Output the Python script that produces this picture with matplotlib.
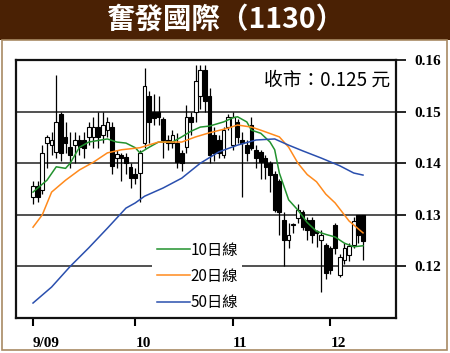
import matplotlib
matplotlib.use("Agg")
import matplotlib.pyplot as plt
from matplotlib.patches import Rectangle
import numpy as np

# daily candles, index 0 = first trading day of Sep 2009
opens = [0.1335, 0.1355, 0.1348, 0.144, 0.1435, 0.1422, 0.1495, 0.145, 0.1432, 0.1435,
         0.1445, 0.1445, 0.145, 0.145, 0.147, 0.1455, 0.1465, 0.147, 0.141, 0.1415,
         0.1412, 0.1393, 0.138, 0.1381, 0.144, 0.153, 0.150, 0.150, 0.1485, 0.1445,
         0.144, 0.144, 0.142, 0.1432, 0.149, 0.150, 0.153, 0.158, 0.153, 0.1455,
         0.1445, 0.1415, 0.147, 0.1435, 0.148, 0.1445, 0.1435, 0.1475, 0.1425, 0.1422,
         0.141, 0.140, 0.138, 0.1365, 0.129, 0.1251, 0.128, 0.1294, 0.1305, 0.129,
         0.129, 0.1268, 0.1251, 0.1241, 0.1236, 0.128, 0.1183, 0.1212, 0.1222, 0.1241,
         0.130, 0.130]
highs = [0.1365, 0.1365, 0.1435, 0.1455, 0.146, 0.157, 0.150, 0.148, 0.146, 0.146,
         0.1455, 0.146, 0.148, 0.149, 0.150, 0.150, 0.149, 0.148, 0.1425, 0.142,
         0.142, 0.140, 0.139, 0.1425, 0.1585, 0.154, 0.1535, 0.153, 0.149, 0.1455,
         0.1465, 0.1458, 0.1425, 0.1512, 0.150, 0.159, 0.159, 0.159, 0.1545, 0.147,
         0.1455, 0.147, 0.1495, 0.150, 0.1485, 0.146, 0.1445, 0.149, 0.1435, 0.1425,
         0.1415, 0.1405, 0.1385, 0.137, 0.1305, 0.1285, 0.1285, 0.132, 0.131, 0.1295,
         0.1295, 0.127, 0.127, 0.1245, 0.124, 0.1285, 0.1225, 0.1245, 0.1245, 0.1295,
         0.130, 0.130]
lows = [0.132, 0.1325, 0.134, 0.139, 0.1415, 0.141, 0.1405, 0.142, 0.139, 0.140,
        0.1415, 0.141, 0.1435, 0.143, 0.143, 0.144, 0.145, 0.138, 0.139, 0.1365,
        0.138, 0.1352, 0.136, 0.1325, 0.143, 0.144, 0.1475, 0.1475, 0.141, 0.1425,
        0.143, 0.139, 0.1385, 0.142, 0.1455, 0.148, 0.1505, 0.150, 0.140, 0.1405,
        0.141, 0.141, 0.1465, 0.1425, 0.144, 0.1335, 0.1405, 0.1425, 0.139, 0.137,
        0.137, 0.1345, 0.1305, 0.126, 0.120, 0.1235, 0.1265, 0.1285, 0.127, 0.1251,
        0.1245, 0.1238, 0.115, 0.1175, 0.1185, 0.1225, 0.118, 0.1205, 0.121, 0.1235,
        0.1245, 0.1212]
closes = [0.1355, 0.1335, 0.142, 0.145, 0.1445, 0.148, 0.142, 0.144, 0.1415, 0.1445,
          0.1432, 0.143, 0.147, 0.147, 0.145, 0.1475, 0.148, 0.1395, 0.1418, 0.141,
          0.140, 0.1372, 0.1371, 0.142, 0.155, 0.148, 0.1488, 0.149, 0.1445, 0.144,
          0.1455, 0.1402, 0.140, 0.149, 0.148, 0.156, 0.158, 0.152, 0.1415, 0.142,
          0.142, 0.1465, 0.149, 0.149, 0.145, 0.144, 0.142, 0.143, 0.141, 0.1402,
          0.1393, 0.1378, 0.131, 0.1305, 0.1251, 0.1261, 0.128, 0.131, 0.1277, 0.127,
          0.1261, 0.1265, 0.1261, 0.1188, 0.1193, 0.1236, 0.1218, 0.1236, 0.124, 0.1288,
          0.1261, 0.125]

# moving averages (day index, price)
ma10_x = [0, 3, 5, 7, 8, 10, 12, 16, 18, 20, 22, 23, 25, 27, 30, 32, 34, 36, 38, 41,
          43, 44, 46, 47, 49, 51, 52, 53, 55, 57, 59, 61, 63, 65, 67, 69, 71]
ma10_y = [0.1344, 0.1367, 0.1393, 0.139, 0.140, 0.1431, 0.1441, 0.1447, 0.1441, 0.1439,
          0.143, 0.142, 0.1431, 0.1441, 0.1441, 0.1451, 0.1462, 0.147, 0.1472, 0.148,
          0.1488, 0.149, 0.148, 0.1464, 0.1458, 0.1441, 0.1426, 0.1381, 0.1329, 0.1309,
          0.1285, 0.1268, 0.1262, 0.1257, 0.1245, 0.1238, 0.124]
ma20_x = [0, 2, 4, 7, 10, 13, 16, 19, 23, 27, 32, 35, 38, 42, 44, 47, 49, 53, 55, 57,
          59, 61, 63, 65, 68, 71]
ma20_y = [0.1276, 0.130, 0.1344, 0.1367, 0.1387, 0.1402, 0.142, 0.1426, 0.143, 0.1441,
          0.1441, 0.1451, 0.1459, 0.1468, 0.1474, 0.147, 0.1464, 0.1451, 0.1431, 0.140,
          0.1378, 0.1364, 0.134, 0.1323, 0.1288, 0.1265]
ma50_x = [0, 4, 8, 12, 16, 20, 22, 24, 28, 32, 36, 40, 44, 48, 52, 55, 58, 62, 66, 69, 71]
ma50_y = [0.1129, 0.116, 0.120, 0.1236, 0.1274, 0.1313, 0.1323, 0.1336, 0.1352, 0.1371,
          0.140, 0.1422, 0.1435, 0.1445, 0.1447, 0.1435, 0.1424, 0.141, 0.1395, 0.1381,
          0.1377]

month_pos = [0, 22, 43, 64]
month_labels = ["9/09", "10", "11", "12"]
price_ticks = [0.12, 0.13, 0.14, 0.15, 0.16]

W, H = 450, 353
fig = plt.figure(figsize=(W / 100, H / 100), dpi=100)
fig.patch.set_facecolor("white")

# title bar and outer frame
fig.patches.append(Rectangle((0, 1 - 40 / H), 1, 40 / H, transform=fig.transFigure,
                             facecolor="#4a2104", edgecolor="none", zorder=0))
fig.patches.append(Rectangle((2 / W, 3 / H), 445 / W, (H - 43) / H,
                             transform=fig.transFigure, facecolor="none",
                             edgecolor="#a88a64", lw=1.2, zorder=0))
fig.text(0.5, 1 - 20 / H, "奮發國際（1130）", color="white", fontsize=20.5,
         fontweight="heavy", ha="center", va="center",
         family=["Noto Sans CJK TC", "DejaVu Sans"])

ax = fig.add_axes([16 / W, (H - 318) / H, 380 / W, 258 / H])
ax.set_xlim(-3.66, 78.1)
ax.set_ylim(0.11, 0.16)

# candles
idx = np.arange(len(closes))
o = np.array(opens)
c = np.array(closes)
ax.vlines(idx, lows, highs, color="black", lw=0.9, zorder=3)
up = c >= o
body_lo = np.minimum(o, c)
body_h = np.maximum(np.abs(c - o), 0.0003)
ax.bar(idx[up], body_h[up], bottom=body_lo[up], width=0.8, facecolor="white",
       edgecolor="black", lw=0.8, zorder=4)
ax.bar(idx[~up], body_h[~up], bottom=body_lo[~up], width=0.8, facecolor="black",
       edgecolor="black", lw=0.8, zorder=4)

ax.plot(ma10_x, ma10_y, color="#22922e", lw=1.1, zorder=5, label="10日線")
ax.plot(ma20_x, ma20_y, color="#ff8a1c", lw=1.1, zorder=5, label="20日線")
ax.plot(ma50_x, ma50_y, color="#2a4fae", lw=1.1, zorder=5, label="50日線")

ax.set_axisbelow(True)
ax.yaxis.grid(True, color="#222222", lw=1.1)
ax.yaxis.tick_right()
ax.set_yticks(price_ticks)
ax.set_yticklabels([f"{p:.2f}" for p in price_ticks])
ax.set_xticks(month_pos)
ax.set_xticklabels(month_labels, ha="left")
ax.tick_params(axis="y", direction="out", length=7, width=1.2, pad=6)
ax.tick_params(axis="x", direction="out", length=6, width=1.5, pad=8)
for lab in ax.get_xticklabels() + ax.get_yticklabels():
    lab.set_family(["Liberation Serif"])
    lab.set_fontsize(11)
    lab.set_fontweight("bold")
for s in ax.spines.values():
    s.set_linewidth(1.6)
    s.set_color("#111111")
    s.set_zorder(8)

ax.text(0.985, 0.92, "收市：0.125 元", transform=ax.transAxes, ha="right",
        va="center", fontsize=13.5, family=["Noto Sans CJK TC", "DejaVu Sans"])

leg = ax.legend(loc="lower left", bbox_to_anchor=(0.338, -0.02), frameon=True,
                fancybox=False, edgecolor="none", facecolor="white", framealpha=1,
                handlelength=2.2, handletextpad=0.0, labelspacing=0.6,
                borderpad=0.3, prop={"family": ["Noto Sans CJK TC"], "size": 11})
leg.set_zorder(6)

fig.savefig("out.png", dpi=100)
